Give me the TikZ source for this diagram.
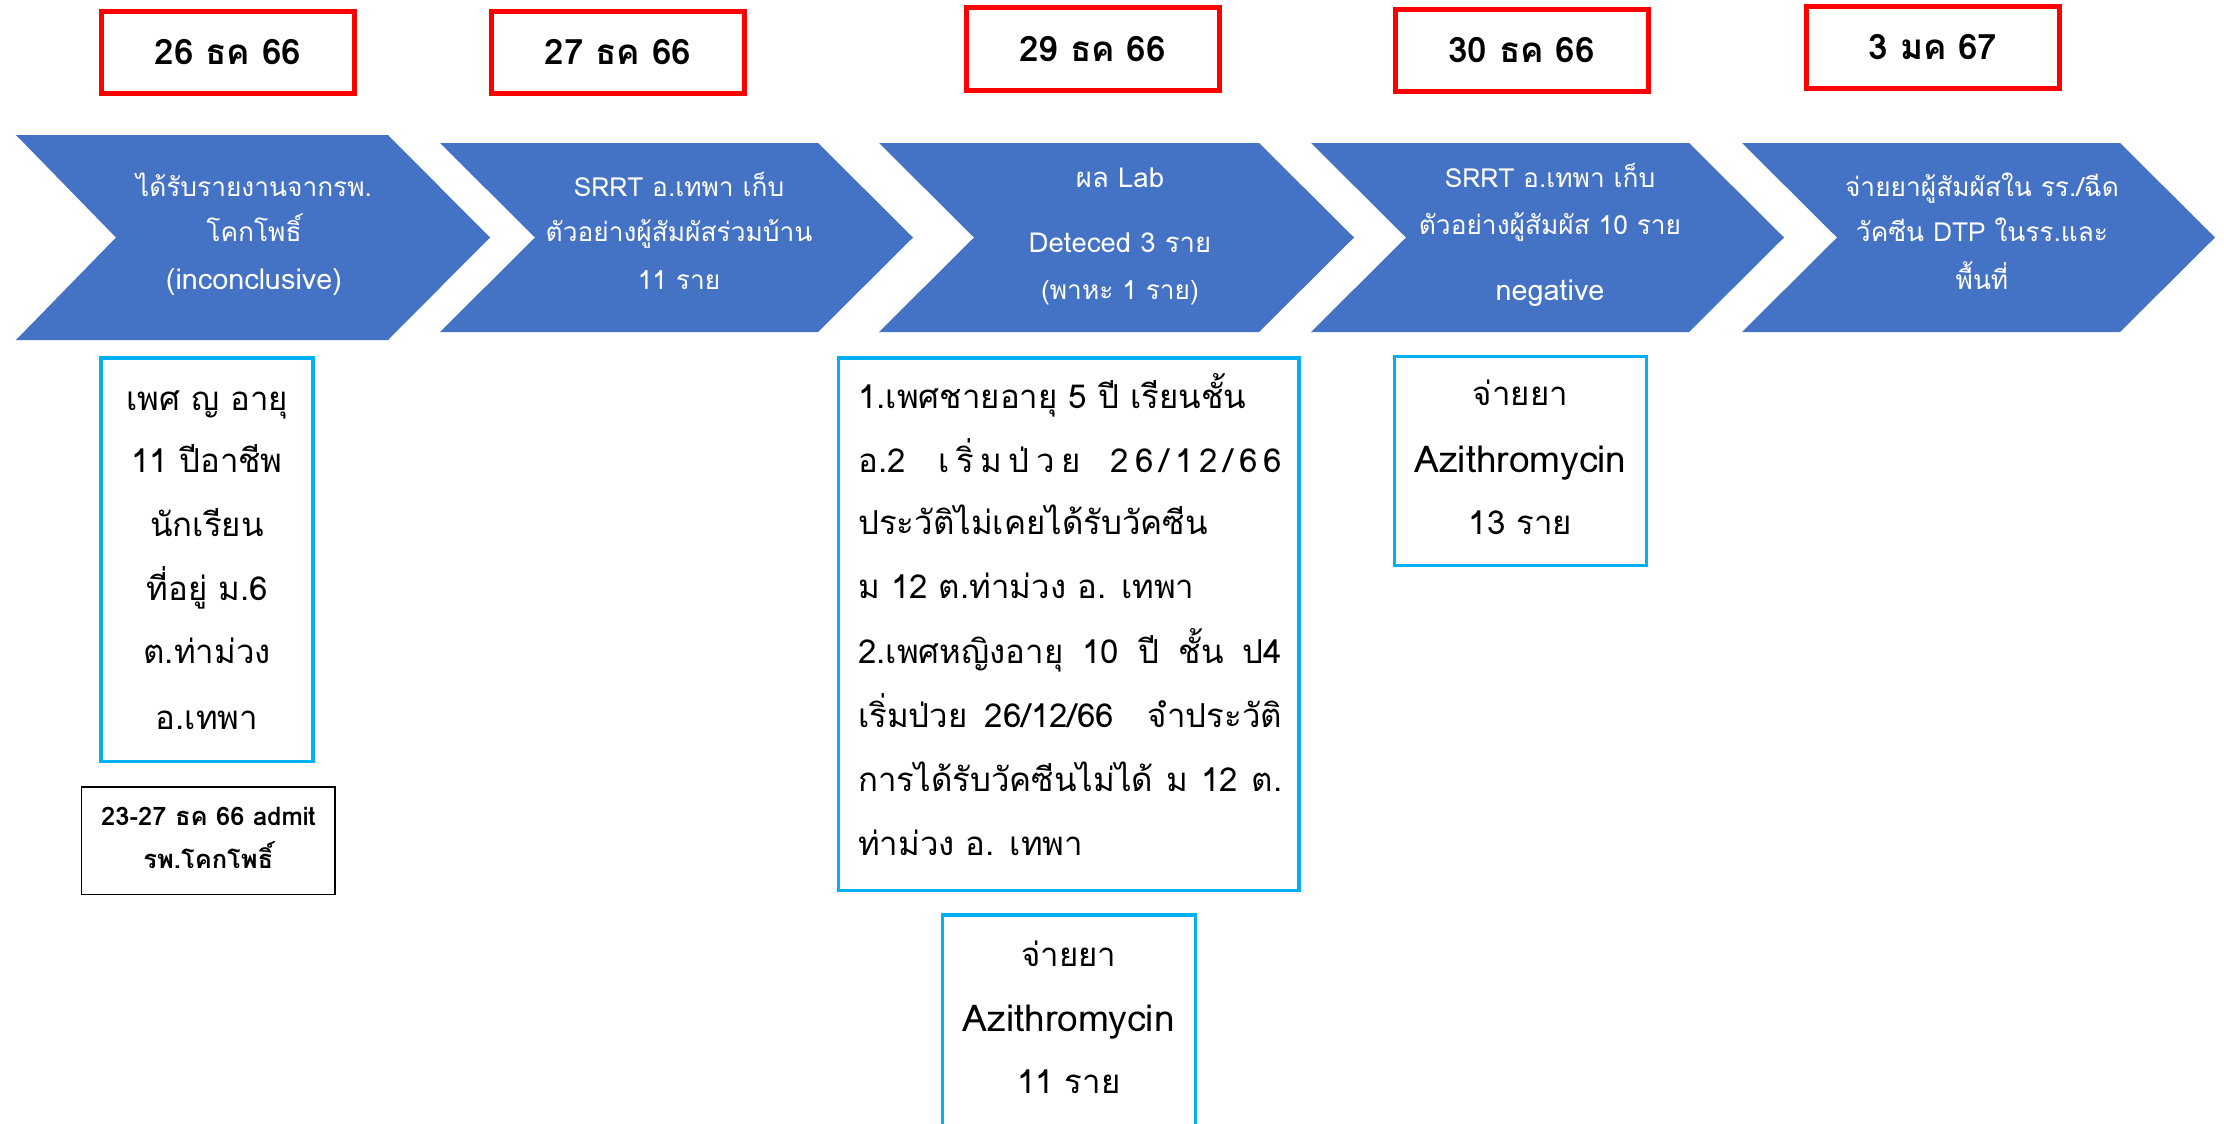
\documentclass[tikz,border=0pt]{standalone}
\usepackage{fontspec}
\setmainfont[Script=Thai]{Loma}
\definecolor{chevblue}{HTML}{4472C4}
\definecolor{cyanb}{HTML}{00B0F0}
\definecolor{datered}{HTML}{FF0000}
\begin{document}
\begin{tikzpicture}[x=1pt,y=-1pt,
  datebox/.style={draw=datered, line width=5pt, fill=white, inner sep=0pt, minimum width=253pt, minimum height=82pt, font=\fontsize{35}{40}\selectfont\bfseries},
  chev/.style={fill=chevblue},
  ctext/.style={text=white, inner sep=0pt, anchor=mid, font=\fontsize{26.3}{30}\selectfont},
  clat/.style={ctext, font=\fontsize{28.8}{32}\selectfont},
  cbox/.style={draw=cyanb, line width=3.5pt, inner sep=0pt},
  btext/.style={inner sep=0pt, anchor=mid, font=\fontsize{33}{38}\selectfont},
  blat/.style={btext, font=\fontsize{37}{42}\selectfont},
  ltext/.style={btext, anchor=mid west},
  stext/.style={inner sep=0pt, anchor=mid, font=\fontsize{25.5}{30}\selectfont\bfseries},
  ]
\useasboundingbox (0,0) rectangle (2224,1124);
\clip (0,0) rectangle (2224,1124);
\fill[white] (0,0) rectangle (2224,1124);

% date boxes
\node[datebox] (d1) at (228,52.5) {26 ธค 66};
\node[datebox] (d2) at (618,52.5) {27 ธค 66};
\node[datebox] (d3) at (1092.5,49) {29 ธค 66};
\node[datebox] (d4) at (1521.5,50.5) {30 ธค 66};
\node[datebox] (d5) at (1933,47.5) {3 มค 67};

% chevrons
\fill[chev] (16,135) -- (388,135) -- (490,237.5) -- (388,340) -- (16,340) -- (116,237.5) -- cycle;
\fill[chev] (440,143) -- (818,143) -- (913,237.5) -- (818,332) -- (440,332) -- (535,237.5) -- cycle;
\fill[chev] (879,143) -- (1259,143) -- (1354,237.5) -- (1259,332) -- (879,332) -- (974,237.5) -- cycle;
\fill[chev] (1311,143) -- (1689,143) -- (1784,237.5) -- (1689,332) -- (1311,332) -- (1406,237.5) -- cycle;
\fill[chev] (1742,143) -- (2120,143) -- (2215,237.5) -- (2120,332) -- (1742,332) -- (1837,237.5) -- cycle;

% chevron texts
\node[ctext] (c1a) at (254,193.5) {ได้รับรายงานจากรพ.};
\node[ctext] (c1b) at (254,238.7) {โคกโพธิ์};
\node[clat] (c1c) at (254,287) {(inconclusive)};

\node[ctext] (c2a) at (679,193.5) {SRRT อ.เทพา เก็บ};
\node[ctext] (c2b) at (679,238.7) {ตัวอย่างผู้สัมผัสร่วมบ้าน};
\node[ctext] (c2c) at (679,287) {11 ราย};

\node[ctext, font=\fontsize{27.5}{30}\selectfont] (c3a) at (1120,184.8) {ผล Lab};
\node[ctext, font=\fontsize{27.5}{30}\selectfont] (c3b) at (1120,250) {Deteced 3 ราย};
\node[ctext] (c3c) at (1120,296.8) {(พาหะ 1 ราย)};

\node[ctext] (c4a) at (1550,184.8) {SRRT อ.เทพา เก็บ};
\node[ctext] (c4b) at (1550,231.6) {ตัวอย่างผู้สัมผัส 10 ราย};
\node[clat] (c4c) at (1550,298.3) {negative};

\node[ctext] (c5a) at (1982,193.5) {จ่ายยาผู้สัมผัสใน รร./ฉีด};
\node[ctext] (c5b) at (1982,238.7) {วัคซีน DTP ในรร.และ};
\node[ctext] (c5c) at (1982,287) {พื้นที่};

% box A
\node[cbox, minimum width=212pt, minimum height=403.5pt] (boxa) at (207.1,559.5) {};
\node[btext] (a1) at (207.1,407.6) {เพศ ญ อายุ};
\node[btext] (a2) at (207.1,470) {11 ปีอาชีพ};
\node[btext] (a3) at (207.1,533.8) {นักเรียน};
\node[btext] (a4) at (207.1,597.7) {ที่อยู่ ม.6};
\node[btext] (a5) at (207.1,661.3) {ต.ท่าม่วง};
\node[btext] (a6) at (207.1,726.6) {อ.เทพา};

% admit box
\node[draw=black, line width=1.5pt, inner sep=0pt, minimum width=253.5pt, minimum height=107.5pt] (adm) at (208.4,840.5) {};
\node[stext] (adm1) at (208.4,823) {23-27 ธค 66 admit};
\node[stext] (adm2) at (208.4,866) {รพ.โคกโพธิ์};

% box B
\node[cbox, minimum width=460.2pt, minimum height=532.7pt] (boxb) at (1068.8,624.1) {};
\node[ltext] (b1) at (858,406.2) {1.เพศชายอายุ 5 ปี เรียนชั้น};
\node[ltext] (b2) at (858,470) {\makebox[424pt][l]{อ.2\hspace*{33pt}เ\kern6.5ptริ่\kern6.5ptม\kern6.5ptป่\kern6.5ptว\kern6.5ptย\hfill 2\kern6pt6\kern6pt/\kern6pt1\kern6pt2\kern6pt/\kern6pt6\kern6pt6}};
\node[ltext] (b3) at (858,532.4) {ประวัติไม่เคยได้รับวัคซีน};
\node[ltext] (b4) at (858,596.3) {ม 12 ต.ท่าม่วง อ. เทพา};
\node[ltext] (b5) at (858,661.3) {\makebox[424pt][s]{2.เพศหญิงอายุ 10 ปี ชั้น ป4}};
\node[ltext] (b6) at (858,725.3) {\makebox[424pt][s]{เริ่มป่วย 26/12/66 \ จำประวัติ}};
\node[ltext] (b7) at (858,789) {\makebox[424pt][s]{การได้รับวัคซีนไม่ได้ ม 12 ต.}};
\node[ltext] (b8) at (858,853) {ท่าม่วง อ. เทพา};

% box C
\node[cbox, minimum width=251.8pt, minimum height=209.2pt] (boxc) at (1520.5,461) {};
\node[btext] (cc1) at (1520.5,403.4) {จ่ายยา};
\node[blat] (cc2) at (1520.5,469.5) {Azithromycin};
\node[btext] (cc3) at (1520.5,532.4) {13 ราย};

% box D
\node[cbox, minimum width=253pt, minimum height=232pt] (boxd) at (1068.8,1031) {};
\node[btext] (dd1) at (1068.8,963.6) {จ่ายยา};
\node[blat] (dd2) at (1068.8,1028.5) {Azithromycin};
\node[btext] (dd3) at (1068.8,1091) {11 ราย};
\end{tikzpicture}
\end{document}
